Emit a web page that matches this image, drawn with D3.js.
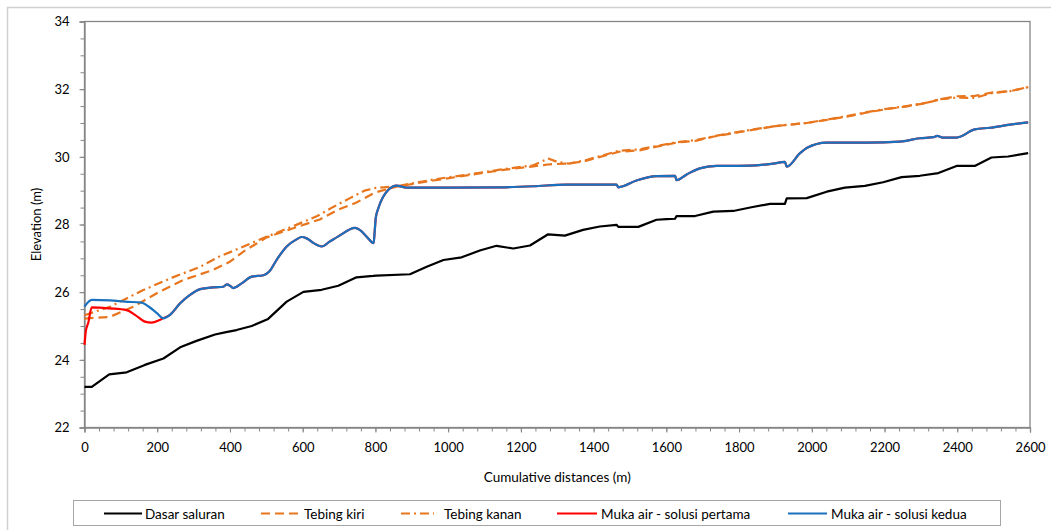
<!DOCTYPE html>
<html>
<head>
<meta charset="utf-8">
<script src="https://cdn.jsdelivr.net/npm/d3@7"></script>
<style>
  html, body { margin: 0; padding: 0; background: #fff; }
  svg { display: block; font-family: Lato, "Open Sans", sans-serif; }
</style>
</head>
<body>
<svg id="chart" width="1051" height="530"></svg>
<script>
// Longitudinal profile: [cumulative distance (m), elevation (m)]
const dasarSaluran = [
  [0,23.2],[20,23.2],[68,23.57],[116,23.63],[166,23.85],[217,24.04],[263,24.37],[308,24.56],
  [359,24.75],[386,24.81],[418,24.88],[460,25.0],[505,25.21],[556,25.72],[602,26.01],[652,26.07],
  [698,26.19],[748,26.44],[794,26.48],[803,26.49],[895,26.53],[941,26.75],[987,26.95],[1037,27.03],
  [1087,27.23],[1133,27.37],[1179,27.29],[1225,27.38],[1275,27.71],[1321,27.67],[1371,27.84],
  [1417,27.94],[1463,27.99],[1468,27.93],[1523,27.93],[1573,28.14],[1601,28.16],[1624,28.17],
  [1628,28.25],[1679,28.25],[1729,28.38],[1784,28.40],[1834,28.51],[1885,28.61],[1926,28.61],
  [1931,28.77],[1986,28.78],[2041,28.97],[2091,29.09],[2146,29.14],[2196,29.25],[2247,29.40],
  [2297,29.44],[2348,29.52],[2398,29.73],[2448,29.73],[2494,29.98],[2540,30.01],[2595,30.11]
];

const tebingKiri = [
  [0,25.22],[70,25.27],[134,25.57],[199,25.97],[272,26.36],[354,26.66],[400,26.90],[437,27.2],
  [501,27.62],[574,27.89],[647,28.15],[700,28.45],[748,28.65],[800,28.95],[858,29.12],[959,29.3],
  [1051,29.45],[1142,29.6],[1234,29.72],[1280,29.78],[1332,29.8],[1378,29.88],[1470,30.15],
  [1525,30.19],[1573,30.3],[1628,30.42],[1683,30.48],[1731,30.6],[1784,30.7],[1839,30.8],
  [1894,30.9],[1937,30.95],[1986,31.0],[2041,31.09],[2096,31.19],[2151,31.31],[2206,31.41],
  [2261,31.49],[2316,31.59],[2349,31.69],[2398,31.79],[2448,31.8],[2494,31.9],[2545,31.94],[2595,32.06]
];

const tebingKanan = [
  [0,25.32],[70,25.57],[159,26.05],[241,26.43],[318,26.75],[370,27.05],[409,27.22],[492,27.6],
  [574,27.95],[640,28.25],[684,28.52],[730,28.78],[770,29.0],[800,29.08],[858,29.13],[959,29.33],
  [1051,29.47],[1142,29.62],[1234,29.75],[1275,29.95],[1300,29.85],[1332,29.8],[1378,29.9],
  [1470,30.18],[1525,30.22],[1573,30.32],[1628,30.43],[1683,30.5],[1731,30.61],[1784,30.71],
  [1839,30.81],[1894,30.9],[1937,30.95],[1986,31.0],[2041,31.1],[2096,31.2],[2151,31.32],
  [2206,31.42],[2261,31.5],[2316,31.6],[2349,31.7],[2398,31.75],[2448,31.74],[2494,31.88],
  [2545,31.94],[2595,32.06]
];

const mukaAirKedua = [
  [0,25.57],[20,25.77],[70,25.76],[111,25.72],[157,25.69],[177,25.57],[199,25.38],[217,25.23],
  [235,25.33],[263,25.67],[290,25.92],[318,26.09],[354,26.14],[382,26.16],[391,26.23],[400,26.19],
  [409,26.12],[432,26.26],[460,26.46],[492,26.5],[508,26.61],[528,26.95],[556,27.35],[583,27.56],
  [597,27.63],[611,27.59],[630,27.45],[652,27.35],[675,27.5],[698,27.65],[744,27.9],[757,27.84],
  [780,27.59],[795,27.45],[798,27.8],[801,28.2],[808,28.48],[835,29.02],[858,29.15],[886,29.09],
  [1000,29.09],[1142,29.10],[1234,29.13],[1326,29.18],[1417,29.18],[1463,29.18],[1468,29.1],
  [1518,29.3],[1573,29.43],[1624,29.44],[1628,29.31],[1656,29.48],[1692,29.66],[1738,29.73],
  [1830,29.74],[1894,29.8],[1926,29.85],[1931,29.71],[1967,30.1],[1986,30.26],[2041,30.42],
  [2151,30.42],[2242,30.45],[2297,30.55],[2335,30.58],[2345,30.62],[2360,30.57],[2398,30.57],
  [2448,30.81],[2490,30.86],[2545,30.95],[2595,31.02]
];

// First solution: its own upstream reach, then it runs on the second solution
const mukaAirPertamaHulu = [
  [0,24.44],[4,24.88],[10,25.08],[20,25.55],[70,25.52],[116,25.47],[139,25.33],[166,25.13],
  [185,25.10],[207,25.18],[221,25.25]
];
const mukaAirPertama = mukaAirPertamaHulu.concat(mukaAirKedua.filter(p => p[0] > 225));

const xTicks = d3.range(0, 2601, 200);
const yTicks = [22, 24, 26, 28, 30, 32, 34];

const seriesNames = ["Dasar saluran", "Tebing kiri", "Tebing kanan", "Muka air - solusi pertama", "Muka air - solusi kedua"];

const svg = d3.select("#chart");
const W = 1051, H = 530;
const plot = { left: 84.5, top: 21.5, right: 1030, bottom: 427.5 };

const x = d3.scaleLinear().domain([0, 2600]).range([plot.left, plot.right]);
const y = d3.scaleLinear().domain([22, 34]).range([plot.bottom, plot.top]);

const axisGray = "#868686";
const orange = "#E8761E";
const blue = "#1A72BE";

// outer chart frame
svg.append("rect")
  .attr("x", 7.5).attr("y", 7.5).attr("width", W).attr("height", H)
  .attr("fill", "none").attr("stroke", "#D0D0D0").attr("stroke-width", 1.5);

// plot border
svg.append("rect")
  .attr("x", plot.left).attr("y", plot.top)
  .attr("width", plot.right - plot.left).attr("height", plot.bottom - plot.top)
  .attr("fill", "none").attr("stroke", axisGray).attr("stroke-width", 1.3);

// x axis: minor ticks every 40 m, labelled every 200 m
const gx = svg.append("g").attr("transform", `translate(0,${plot.bottom})`);
gx.call(d3.axisBottom(x).tickValues(d3.range(0, 2601, 40)).tickSize(4).tickFormat(""))
  .call(g => g.select(".domain").remove())
  .call(g => g.selectAll("line").attr("stroke", axisGray));
gx.append("g").call(d3.axisBottom(x).tickValues(xTicks).tickSize(5).tickPadding(10).tickFormat(d3.format("d")))
  .call(g => g.select(".domain").attr("stroke", axisGray).attr("stroke-width", 1.3))
  .call(g => g.selectAll("line").attr("stroke", axisGray))
  .call(g => g.selectAll("text").attr("fill", "#000").style("font-size", "13px").style("font-family", "Lato, sans-serif"));

// y axis: minor ticks every 0.5 m, labelled every 2 m
const gy = svg.append("g").attr("transform", `translate(${plot.left},0)`);
gy.call(d3.axisLeft(y).tickValues(d3.range(22, 34.01, 0.5)).tickSize(4).tickFormat(""))
  .call(g => g.select(".domain").remove())
  .call(g => g.selectAll("line").attr("stroke", axisGray));
gy.append("g").call(d3.axisLeft(y).tickValues(yTicks).tickSize(5).tickPadding(10).tickFormat(d3.format("d")))
  .call(g => g.select(".domain").attr("stroke", axisGray).attr("stroke-width", 1.3))
  .call(g => g.selectAll("line").attr("stroke", axisGray))
  .call(g => g.selectAll("text").attr("fill", "#000").style("font-size", "13px").style("font-family", "Lato, sans-serif"));

// axis titles
svg.append("text")
  .attr("x", (plot.left + plot.right) / 2).attr("y", 482)
  .attr("text-anchor", "middle").style("font-size", "13.5px").text("Cumulative distances (m)");
svg.append("text")
  .attr("transform", `translate(41,${(plot.top + plot.bottom) / 2}) rotate(-90)`)
  .attr("text-anchor", "middle").style("font-size", "13px").text("Elevation (m)");

// series
const lineStraight = d3.line().x(d => x(d[0])).y(d => y(d[1]));
const lineSmooth = d3.line().x(d => x(d[0])).y(d => y(d[1])).curve(d3.curveMonotoneX);

const styles = [
  { data: tebingKiri, color: orange, dash: "9,5", gen: lineStraight },
  { data: tebingKanan, color: orange, dash: "9,4,2,4", gen: lineStraight },
  { data: dasarSaluran, color: "#000000", dash: null, gen: lineStraight },
  { data: mukaAirPertama, color: "#FF0000", dash: null, gen: lineSmooth },
  { data: mukaAirKedua, color: blue, dash: null, gen: lineSmooth }
];

const gLines = svg.append("g");
styles.forEach(s => {
  gLines.append("path")
    .attr("d", s.gen(s.data))
    .attr("fill", "none")
    .attr("stroke", s.color)
    .attr("stroke-width", 2.2)
    .attr("stroke-linejoin", "round")
    .attr("stroke-dasharray", s.dash);
});

// legend
const legend = svg.append("g");
legend.append("rect")
  .attr("x", 73.5).attr("y", 500.5).attr("width", 927).attr("height", 25)
  .attr("fill", "#fff").attr("stroke", "#A6A6A6").attr("stroke-width", 1);

const legendItems = [
  { name: seriesNames[0], color: "#000000", dash: null, x0: 104, x1: 142, tx: 145 },
  { name: seriesNames[1], color: orange, dash: "9,5", x0: 261, x1: 301, tx: 304 },
  { name: seriesNames[2], color: orange, dash: "9,4,2,4", x0: 401, x1: 434, tx: 444 },
  { name: seriesNames[3], color: "#FF0000", dash: null, x0: 557, x1: 597, tx: 601 },
  { name: seriesNames[4], color: blue, dash: null, x0: 788, x1: 827, tx: 831 }
];
legendItems.forEach(it => {
  legend.append("line")
    .attr("x1", it.x0).attr("x2", it.x1).attr("y1", 513.5).attr("y2", 513.5)
    .attr("stroke", it.color).attr("stroke-width", 2.2).attr("stroke-dasharray", it.dash);
  legend.append("text")
    .attr("x", it.tx).attr("y", 518.5).style("font-size", "13.5px").text(it.name);
});
</script>
</body>
</html>
